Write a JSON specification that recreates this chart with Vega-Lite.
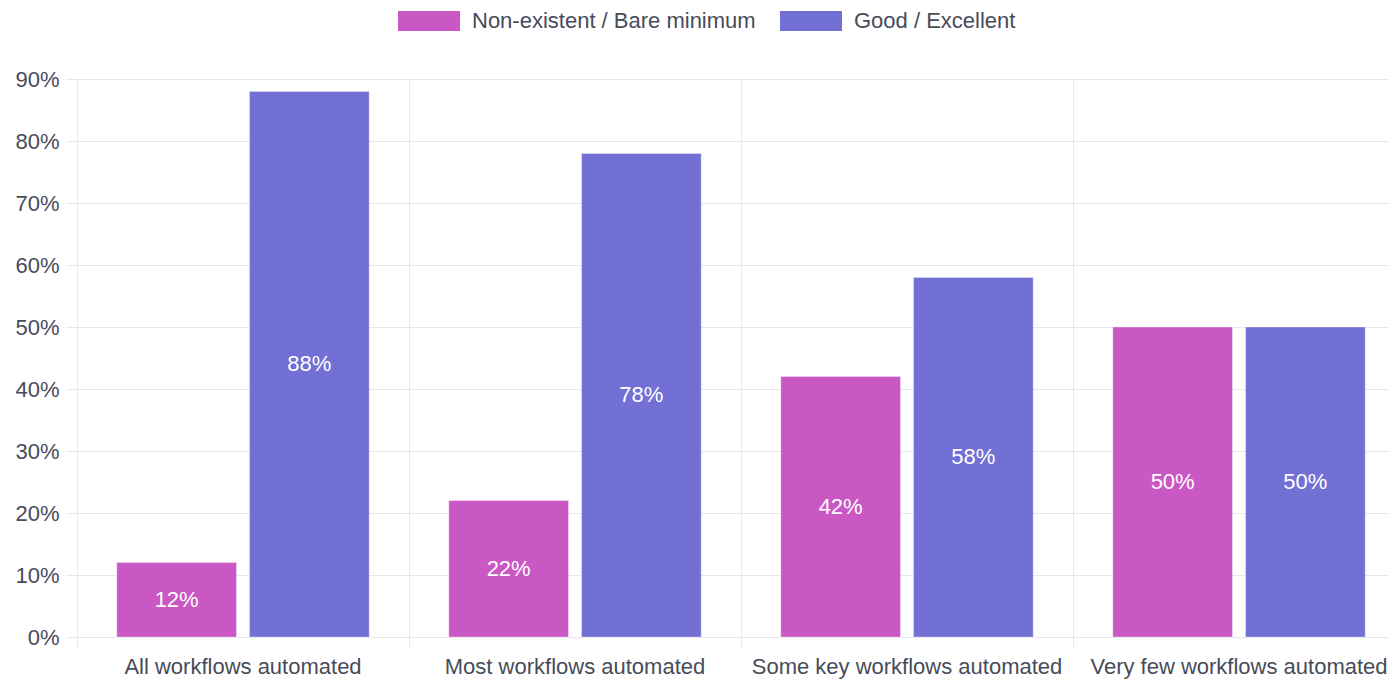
{
  "$schema": "https://vega.github.io/schema/vega-lite/v6.json",
  "width": 1312,
  "height": 558,
  "autosize": "none",
  "padding": {"left": 77, "top": 79, "right": 0, "bottom": 42},
  "background": "#ffffff",
  "config": {
    "view": {"stroke": null},
    "font": "Liberation Sans",
    "axis": {
      "labelFont": "Liberation Sans",
      "labelFontSize": 22,
      "labelColor": "#474c5a",
      "labelLimit": 500,
      "gridColor": "#e6e7ed",
      "tickColor": "#e6e7ed",
      "gridWidth": 1,
      "tickWidth": 1,
      "domain": false,
      "title": null
    },
    "legend": {
      "labelFont": "Liberation Sans",
      "labelFontSize": 22,
      "labelColor": "#474c5a",
      "labelLimit": 500
    }
  },
  "data": {
    "values": [
      {"workflow": "All workflows automated", "rating": "Non-existent / Bare minimum", "share": 0.12},
      {"workflow": "All workflows automated", "rating": "Good / Excellent", "share": 0.88},
      {"workflow": "Most workflows automated", "rating": "Non-existent / Bare minimum", "share": 0.22},
      {"workflow": "Most workflows automated", "rating": "Good / Excellent", "share": 0.78},
      {"workflow": "Some key workflows automated", "rating": "Non-existent / Bare minimum", "share": 0.42},
      {"workflow": "Some key workflows automated", "rating": "Good / Excellent", "share": 0.58},
      {"workflow": "Very few workflows automated", "rating": "Non-existent / Bare minimum", "share": 0.50},
      {"workflow": "Very few workflows automated", "rating": "Good / Excellent", "share": 0.50}
    ]
  },
  "encoding": {
    "x": {
      "field": "workflow",
      "type": "nominal",
      "sort": ["All workflows automated", "Most workflows automated", "Some key workflows automated", "Very few workflows automated"],
      "scale": {"paddingInner": 0, "paddingOuter": 0, "range": [0, 1328]},
      "axis": {
        "bandPosition": 0,
        "grid": true,
        "tickSize": 12,
        "labelAngle": 0,
        "labelPadding": 7
      }
    },
    "xOffset": {
      "field": "rating",
      "type": "nominal",
      "sort": ["Non-existent / Bare minimum", "Good / Excellent"],
      "scale": {"paddingInner": 0.098, "paddingOuter": 0.3}
    }
  },
  "layer": [
    {
      "mark": {"type": "bar", "stroke": "#ffffff", "strokeOpacity": 0.35, "strokeWidth": 1},
      "encoding": {
        "y": {
          "field": "share",
          "type": "quantitative",
          "scale": {"domain": [0, 0.9], "nice": false, "zero": true},
          "axis": {
            "values": [0, 0.1, 0.2, 0.3, 0.4, 0.5, 0.6, 0.7, 0.8, 0.9],
            "format": ".0%",
            "grid": true,
            "tickSize": 11,
            "labelPadding": 7
          }
        },
        "color": {
          "field": "rating",
          "type": "nominal",
          "sort": ["Non-existent / Bare minimum", "Good / Excellent"],
          "scale": {
            "domain": ["Non-existent / Bare minimum", "Good / Excellent"],
            "range": ["#c957c4", "#7270d4"]
          },
          "legend": {
            "title": null,
            "orient": "none",
            "direction": "horizontal",
            "legendX": 321,
            "legendY": -89,
            "symbolType": "M-1,-0.32H1V0.32H-1Z",
            "symbolSize": 3844,
            "symbolStrokeWidth": 0,
            "symbolOpacity": 1,
            "labelOffset": 12,
            "columnPadding": 24
          }
        }
      }
    },
    {
      "mark": {"type": "text", "color": "#ffffff", "fontSize": 22, "font": "Liberation Sans", "baseline": "middle", "align": "center"},
      "encoding": {
        "y": {
          "field": "share",
          "type": "quantitative",
          "scale": {"domain": [0, 1.8], "nice": false, "zero": true},
          "axis": null
        },
        "text": {"field": "share", "type": "quantitative", "format": ".0%"}
      }
    }
  ],
  "resolve": {"scale": {"y": "independent"}}
}
